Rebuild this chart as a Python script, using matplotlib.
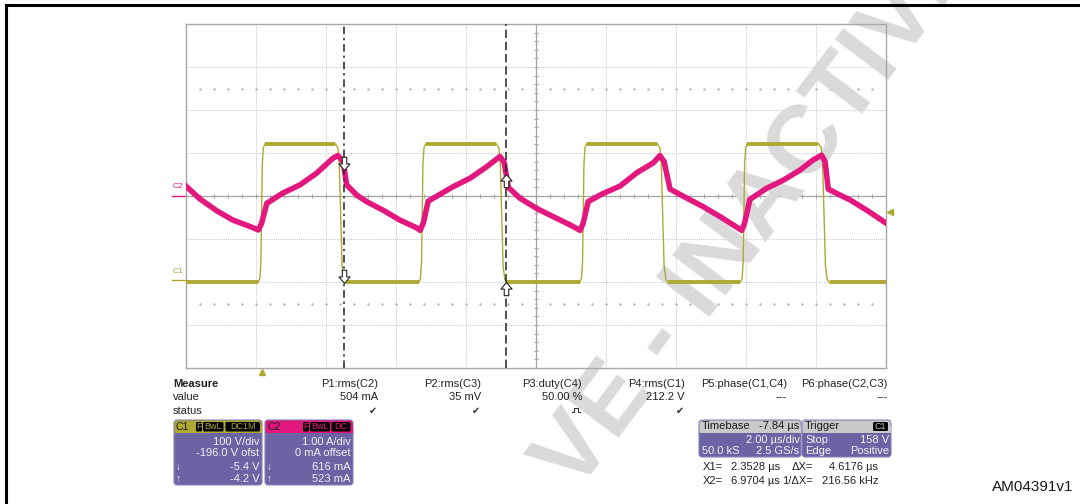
import numpy as np
import matplotlib
matplotlib.use("Agg")
import matplotlib.pyplot as plt
from matplotlib.patches import FancyBboxPatch, Rectangle
from matplotlib.path import Path

plt.rcParams['font.family'] = ['Liberation Sans', 'DejaVu Sans']

# screen settings (time in us, 2 us/div, 10 div wide, 8 div high)
t_left, t_right = -2.16, 17.84
c1_vdiv, c1_ofs = 100.0, -196.0      # C1: V/div, offset V
c2_adiv = 1.0                        # C2: A/div

# C1 (voltage) square wave, edges
c1_rise = [0.0, 4.59, 9.19, 13.78]
c1_fall = [2.26, 6.86, 11.46, 16.07]
c1_low, c1_high = -5.0, 318.0

# C2 (current) trace, us / A
c2_t = [-2.16, -1.76, -1.27, -0.82, -0.33, -0.09, 0.00, 0.15, 0.61, 1.10, 1.57, 2.04, 2.18, 2.33, 2.43, 2.72, 3.00, 3.47, 3.95, 4.43, 4.53,
        4.62, 4.76, 5.48, 5.95, 6.43, 6.81, 6.93, 7.05, 7.38, 7.86, 8.33, 8.81, 9.10,
        9.19, 9.33, 9.76, 10.24, 10.72, 11.19, 11.38, 11.50, 11.67, 12.15, 12.62, 13.10, 13.72,
        13.80, 13.95, 14.43, 14.91, 15.38, 15.76, 16.00, 16.10, 16.19, 16.53, 16.81, 17.29, 17.84]
c2_i = [0.23, -0.07, -0.35, -0.56, -0.71, -0.79, -0.63, -0.17, 0.07, 0.26, 0.53, 0.88, 0.94, 0.80, 0.26, 0.02, -0.13, -0.33, -0.56, -0.74, -0.80,
        -0.63, -0.12, 0.22, 0.41, 0.68, 0.92, 0.78, 0.20, -0.05, -0.29, -0.48, -0.67, -0.80,
        -0.63, -0.13, 0.06, 0.23, 0.54, 0.77, 0.94, 0.80, 0.16, -0.05, -0.25, -0.48, -0.80,
        -0.63, -0.08, 0.18, 0.37, 0.60, 0.84, 0.95, 0.80, 0.16, 0.02, -0.09, -0.33, -0.63]

# cursors and readouts
cursor_x1, cursor_x2 = 2.3528, 6.9704
c1_at_cursor = [-5.4, -4.2]
c2_at_cursor = [0.616, 0.523]
trig_level = 158.0

meas_names = ["P1:rms(C2)", "P2:rms(C3)", "P3:duty(C4)", "P4:rms(C1)", "P5:phase(C1,C4)", "P6:phase(C2,C3)"]
meas_values = ["504 mA", "35 mV", "50.00 %", "212.2 V", "---", "---"]

OLIVE = '#aea932'
MAGENTA = '#e3187e'
PURPLE = '#6b63a3'
TXT = '#222222'

# edge shapes (dt us, fraction of swing)
rise_prof = [(-0.10, 0), (-0.05, 0.03), (-0.02, 0.15), (0.02, 0.85), (0.05, 0.97), (0.10, 1)]
fall_prof = [(-0.16, 1), (-0.08, 0.97), (-0.04, 0.85), (0.04, 0.12), (0.09, 0.02), (0.16, 0)]


def c1_div(v):
    return (v + c1_ofs) / c1_vdiv


c1_t = [t_left]
c1_v = [c1_low]
for r, f in zip(c1_rise, c1_fall):
    for dt, fr in rise_prof:
        c1_t.append(r + dt)
        c1_v.append(c1_low + fr * (c1_high - c1_low))
    for dt, fr in fall_prof:
        c1_t.append(f + dt)
        c1_v.append(c1_low + fr * (c1_high - c1_low))
c1_t.append(t_right)
c1_v.append(c1_low)
c1_y = [c1_div(v) for v in c1_v]

fig = plt.figure(figsize=(10.8, 5.04), dpi=100)
# pixel-coordinate overlay for the panel texts (drawn on top)
bg = fig.add_axes([0, 0, 1, 1], zorder=3)
bg.set_xlim(0, 1080)
bg.set_ylim(504, 0)
bg.axis('off')

ax = fig.add_axes([186 / 1080, 1 - 368 / 504, 700 / 1080, 344 / 504], zorder=2)
ax.set_facecolor('none')
ax.set_xlim(t_left, t_right)
ax.set_ylim(-4, 4)
ax.set_xticks([])
ax.set_yticks([])
for s in ax.spines.values():
    s.set_color('#a8a8a8')
    s.set_linewidth(1.0)

# graticule
t_mid = (t_left + t_right) / 2
for k in range(1, 10):
    x = t_left + 2 * k
    if k == 5:
        ax.axvline(x, color='#a4a4a4', lw=0.9, zorder=1)
    else:
        ax.axvline(x, color='#b0b0b0', lw=0.6, ls=(0, (1, 1.5)), zorder=1)
for k in range(-3, 4):
    if k == 0:
        ax.axhline(0, color='#a4a4a4', lw=0.9, zorder=1)
    else:
        ax.axhline(k, color='#b0b0b0', lw=0.6, ls=(0, (1, 1.5)), zorder=1)
ax.vlines(np.arange(t_left, t_right, 0.4), -0.05, 0.05, color='#a4a4a4', lw=0.8, zorder=1)
ax.hlines(np.arange(-4, 4.01, 0.2), t_mid - 0.06, t_mid + 0.06, color='#a4a4a4', lw=0.8, zorder=1)
dots = np.arange(t_left + 0.4, t_right, 0.4)
for yy in (2.5, -2.5):
    ax.plot(dots, [yy] * len(dots), ls='none', marker='s', ms=0.7, color='#b4b4b4', zorder=1)

# watermark (over the grid, under the traces)
ax.text(758, 212, "VE - INACTIVE", rotation=53, fontsize=70, color='#dadada', weight='bold',
        ha='center', va='center', rotation_mode='anchor', zorder=2,
        transform=bg.transData, clip_on=False)

# C1 trace
ax.plot(c1_t, c1_y, color=OLIVE, lw=1.0, zorder=3)
hi_start = [r + 0.10 for r in c1_rise]
hi_end = [f - 0.16 for f in c1_fall]
ax.hlines([c1_div(c1_high)] * len(hi_start), hi_start, hi_end, color=OLIVE, lw=2.8, zorder=3)
lo_start = [t_left] + [f + 0.16 for f in c1_fall]
lo_end = [r - 0.10 for r in c1_rise] + [t_right]
ax.hlines([c1_div(c1_low)] * len(lo_start), lo_start, lo_end, color=OLIVE, lw=2.8, zorder=3)

# C2 trace
ax.plot(c2_t, [i / c2_adiv for i in c2_i], color=MAGENTA, lw=4.0, solid_joinstyle='round', zorder=4)

# cursors
ax.axvline(cursor_x1, color=TXT, lw=1.1, ls=(0, (5, 2.5, 1.5, 2.5)), zorder=5)
ax.axvline(cursor_x2, color=TXT, lw=1.1, ls=(0, (5.5, 2.5)), zorder=5)
down = Path([(0, 0), (0.42, 0.5), (0.17, 0.5), (0.17, 1.0), (-0.17, 1.0), (-0.17, 0.5), (-0.42, 0.5), (0, 0)])
up = Path([(0, 0), (0.42, -0.5), (0.17, -0.5), (0.17, -1.0), (-0.17, -1.0), (-0.17, -0.5), (-0.42, -0.5), (0, 0)])
ax.plot([cursor_x1], [c2_at_cursor[0] / c2_adiv], marker=down, ms=19, mfc='white', mec=TXT, mew=0.8, ls='none', zorder=6)
ax.plot([cursor_x1], [c1_div(c1_at_cursor[0])], marker=down, ms=19, mfc='white', mec=TXT, mew=0.8, ls='none', zorder=6)
ax.plot([cursor_x2], [c2_at_cursor[1] / c2_adiv], marker=up, ms=19, mfc='white', mec=TXT, mew=0.8, ls='none', zorder=6)
ax.plot([cursor_x2], [c1_div(c1_at_cursor[1])], marker=up, ms=19, mfc='white', mec=TXT, mew=0.8, ls='none', zorder=6)

# channel / trigger markers
ax.plot([t_left - 0.4, t_left], [0, 0], color=MAGENTA, lw=1.0, clip_on=False)
ax.text(t_left - 0.37, 0.13, "C2", color=MAGENTA, fontsize=6, va='bottom', ha='left', clip_on=False)
ax.plot([t_left - 0.4, t_left], [c1_div(0), c1_div(0)], color=OLIVE, lw=1.0, clip_on=False)
ax.text(t_left - 0.37, c1_div(0) + 0.13, "C1", color=OLIVE, fontsize=6, va='bottom', ha='left', clip_on=False)
ax.plot([t_right + 0.12], [c1_div(trig_level)], marker='<', ms=5, color=OLIVE, clip_on=False)
ax.plot([0], [-4.1], marker='^', ms=5, color=OLIVE, clip_on=False)

# frame
bg.plot([6, 6], [504, 5], color='black', lw=2.2)
bg.plot([6, 1080], [5, 5], color='black', lw=2.2)

# measure table
fs = 8
bg.text(173, 384, "Measure", fontsize=fs, weight='bold', color=TXT, va='center')
bg.text(173, 397, "value", fontsize=fs, color=TXT, va='center')
bg.text(173, 410.5, "status", fontsize=fs, color=TXT, va='center')
col_right = [378, 481, 582, 685, 787, 888]
for xr, name, val in zip(col_right, meas_names, meas_values):
    bg.text(xr, 384, name, fontsize=fs, color=TXT, va='center', ha='right')
    bg.text(xr, 397, val, fontsize=fs, color=TXT, va='center', ha='right')
for xr in (373, 476, 680):
    bg.text(xr, 410.5, "\u2714", fontsize=7, color='#333333', va='center', ha='center')
bg.plot([572, 574, 574, 578, 578, 580], [412, 412, 407.5, 407.5, 412, 412], color='#333333', lw=0.8)


def panel(x0, y0, w, h, head_col, head_h=12.5):
    bg.add_patch(FancyBboxPatch((x0, y0), w, h, boxstyle='round,pad=0,rounding_size=3',
                                fc=PURPLE, ec='#8a84bb', lw=0.8))
    bg.add_patch(FancyBboxPatch((x0 + 0.5, y0 + 0.5), w - 1, head_h, boxstyle='round,pad=0,rounding_size=2.5',
                                fc=head_col, ec='none'))
    bg.add_patch(Rectangle((x0 + 0.5, y0 + head_h / 2), w - 1, head_h / 2 + 0.5, fc=head_col, ec='none'))


def tag(x0, x1, label, col):
    bg.add_patch(FancyBboxPatch((x0, 422), x1 - x0, 9.5, boxstyle='round,pad=0,rounding_size=1.5', fc='black', ec='none'))
    bg.text((x0 + x1) / 2, 426.8, label, fontsize=6.5, color=col, ha='center', va='center')


WH = '#f2f2f2'
# C1 box
panel(174, 420, 88, 65, OLIVE)
bg.text(176, 426.8, "C1", fontsize=7.5, color='#1a1a1a', va='center')
tag(196, 202, "F", OLIVE)
tag(203, 223.5, "BwL", OLIVE)
tag(225.5, 260, "DC1M", OLIVE)
bg.text(259.5, 442, "100 V/div", fontsize=fs, color=WH, ha='right', va='center')
bg.text(259.5, 452.5, "-196.0 V ofst", fontsize=fs, color=WH, ha='right', va='center')
bg.text(259.5, 467, "-5.4 V", fontsize=fs, color=WH, ha='right', va='center')
bg.text(259.5, 478.5, "-4.2 V", fontsize=fs, color=WH, ha='right', va='center')
bg.text(176, 467, "\u2193", fontsize=7, color=WH, va='center')
bg.text(176, 478.5, "\u2191", fontsize=7, color=WH, va='center')

# C2 box
panel(265, 420, 88, 65, MAGENTA)
bg.text(267, 426.8, "C2", fontsize=7.5, color='#1a1a1a', va='center')
tag(303, 309, "F", MAGENTA)
tag(310, 330, "BwL", MAGENTA)
tag(331.5, 350.5, "DC", MAGENTA)
bg.text(350.5, 442, "1.00 A/div", fontsize=fs, color=WH, ha='right', va='center')
bg.text(350.5, 452.5, "0 mA offset", fontsize=fs, color=WH, ha='right', va='center')
bg.text(350.5, 467, "616 mA", fontsize=fs, color=WH, ha='right', va='center')
bg.text(350.5, 478.5, "523 mA", fontsize=fs, color=WH, ha='right', va='center')
bg.text(267, 467, "\u2193", fontsize=7, color=WH, va='center')
bg.text(267, 478.5, "\u2191", fontsize=7, color=WH, va='center')

# timebase / trigger boxes
panel(699, 420, 102, 37, '#c9c9c9')
bg.text(702, 426.3, "Timebase", fontsize=fs, color='#1a1a1a', va='center')
bg.text(799.5, 426.3, "-7.84 \u00b5s", fontsize=fs, color='#1a1a1a', va='center', ha='right')
bg.text(799.5, 440, "2.00 \u00b5s/div", fontsize=fs, color=WH, va='center', ha='right')
bg.text(702, 451, "50.0 kS", fontsize=fs, color=WH, va='center')
bg.text(799.5, 451, "2.5 GS/s", fontsize=fs, color=WH, va='center', ha='right')

panel(802, 420, 89, 37, '#c9c9c9')
bg.text(805, 426.3, "Trigger", fontsize=fs, color='#1a1a1a', va='center')
bg.add_patch(FancyBboxPatch((873, 422), 15, 9, boxstyle='round,pad=0,rounding_size=1.5', fc='black', ec='none'))
bg.text(880.5, 426.5, "C1", fontsize=6.5, color='#c9c9c9', ha='center', va='center')
bg.text(805, 440, "Stop", fontsize=fs, color=WH, va='center')
bg.text(889.5, 440, "158 V", fontsize=fs, color=WH, va='center', ha='right')
bg.text(805, 451, "Edge", fontsize=fs, color=WH, va='center')
bg.text(889.5, 451, "Positive", fontsize=fs, color=WH, va='center', ha='right')

# cursor readout
bg.text(703, 467.5, "X1=", fontsize=fs, color=TXT, va='center')
bg.text(780, 467.5, "2.3528 \u00b5s", fontsize=fs, color=TXT, va='center', ha='right')
bg.text(813, 467.5, "\u0394X=", fontsize=fs, color=TXT, va='center', ha='right')
bg.text(878, 467.5, "4.6176 \u00b5s", fontsize=fs, color=TXT, va='center', ha='right')
bg.text(703, 481.5, "X2=", fontsize=fs, color=TXT, va='center')
bg.text(780, 481.5, "6.9704 \u00b5s", fontsize=fs, color=TXT, va='center', ha='right')
bg.text(813, 481.5, "1/\u0394X=", fontsize=fs, color=TXT, va='center', ha='right')
bg.text(878, 481.5, "216.56 kHz", fontsize=fs, color=TXT, va='center', ha='right')

bg.text(1073, 487, "AM04391v1", fontsize=11, color='#1a1a1a', va='center', ha='right')

fig.savefig("out.png", dpi=100)
